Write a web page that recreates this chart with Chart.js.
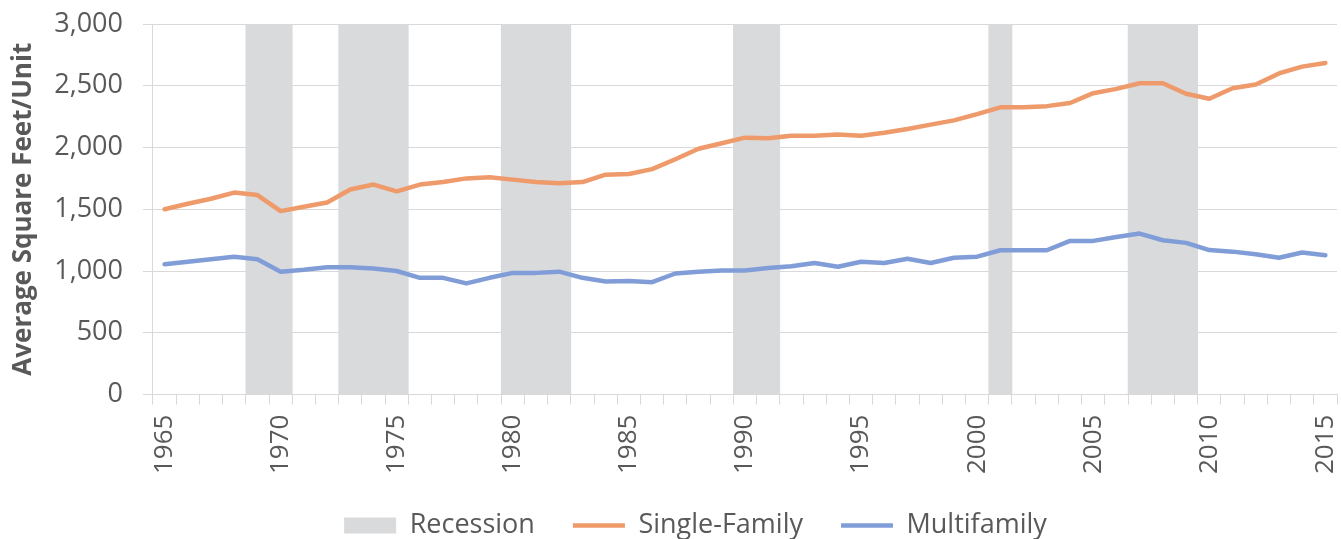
<!DOCTYPE html>
<html>
<head>
<meta charset="utf-8">
<script src="https://cdn.jsdelivr.net/npm/chart.js@4/dist/chart.umd.min.js"></script>
<style>
  html, body { margin: 0; padding: 0; background: #ffffff; }
  #wrap { width: 1341px; height: 539px; }
</style>
</head>
<body>
<div id="wrap"><canvas id="c" width="1341" height="539"></canvas></div>
<script>
const years = [];
for (let y = 1965; y <= 2015; y++) years.push(String(y));

const recessionYears = [1969, 1970, 1973, 1974, 1975, 1980, 1981, 1982, 1990, 1991, 2001, 2007, 2008, 2009];

const singleFamily = [
  1500, 1545, 1585, 1635, 1615, 1485, 1520, 1555, 1660, 1700,
  1645, 1700, 1720, 1750, 1760, 1740, 1720, 1710, 1720, 1780,
  1785, 1825, 1905, 1990, 2035, 2080, 2075, 2095, 2095, 2105,
  2095, 2120, 2150, 2185, 2220, 2270, 2325, 2325, 2335, 2360,
  2440, 2475, 2520, 2520, 2435, 2395, 2480, 2510, 2600, 2655,
  2685
];

const multifamily = [
  1055, 1075, 1095, 1115, 1095, 995, 1010, 1030, 1030, 1020,
  1000, 945, 945, 900, 945, 985, 985, 995, 945, 915,
  920, 910, 980, 995, 1005, 1005, 1025, 1038, 1065, 1035,
  1075, 1065, 1100, 1065, 1108, 1116, 1168, 1168, 1168, 1244,
  1244, 1276, 1303, 1249, 1228, 1170, 1157, 1136, 1108, 1150,
  1127
];

const yMax = 3000;
const recession = years.map(y => recessionYears.includes(Number(y)) ? yMax : null);

const textColor = '#595959';
const gridColor = '#d9d9d9';
const fontFamily = '"Open Sans", "Noto Sans", sans-serif';

const legendShift = {
  id: 'legendShift',
  afterLayout(chart) {
    const lg = chart.legend;
    if (lg) {
      const dx = 25;
      lg.left += dx;
      lg.right += dx;
      if (lg.legendHitBoxes) lg.legendHitBoxes.forEach(h => { h.left += dx; });
    }
  }
};

new Chart(document.getElementById('c'), {
  data: {
    labels: years,
    datasets: [
      {
        type: 'bar',
        label: 'Recession',
        data: recession,
        backgroundColor: '#d9dadc',
        borderWidth: 0,
        categoryPercentage: 1.0,
        barPercentage: 1.0,
        pointStyle: 'rect',
        order: 3
      },
      {
        type: 'line',
        label: 'Single-Family',
        data: singleFamily,
        borderColor: '#ee9a6a',
        backgroundColor: '#ee9a6a',
        borderWidth: 4.5,
        pointRadius: 0,
        pointStyle: 'line',
        borderCapStyle: 'round',
        borderJoinStyle: 'round',
        tension: 0,
        order: 1
      },
      {
        type: 'line',
        label: 'Multifamily',
        data: multifamily,
        borderColor: '#809dd8',
        backgroundColor: '#809dd8',
        borderWidth: 4.5,
        pointRadius: 0,
        pointStyle: 'line',
        borderCapStyle: 'round',
        borderJoinStyle: 'round',
        tension: 0,
        order: 2
      }
    ]
  },
  plugins: [legendShift],
  options: {
    responsive: false,
    animation: false,
    layout: { padding: { left: 4, right: 4, top: 24, bottom: -10 } },
    plugins: {
      tooltip: { enabled: false },
      legend: {
        position: 'bottom',
        labels: {
          color: textColor,
          font: { family: fontFamily, size: 27 },
          usePointStyle: true,
          pointStyleWidth: 52,
          boxHeight: 16,
          padding: 38,
          sort: (a, b) => a.datasetIndex - b.datasetIndex
        }
      }
    },
    scales: {
      x: {
        type: 'category',
        offset: true,
        afterFit: (scale) => {
          scale.paddingRight = 0;
          scale.paddingLeft = 0;
          scale.height = scale.height - 10;
        },
        grid: {
          offset: true,
          drawOnChartArea: false,
          drawTicks: true,
          tickLength: 10,
          color: gridColor
        },
        border: { display: true, color: gridColor },
        ticks: {
          autoSkip: false,
          maxRotation: 90,
          minRotation: 90,
          color: textColor,
          font: { family: fontFamily, size: 26 },
          padding: 10,
          callback: function (value) {
            const lab = this.getLabelForValue(value);
            return Number(lab) % 5 === 0 ? lab : '';
          }
        }
      },
      y: {
        min: 0,
        max: yMax,
        afterFit: (scale) => {
          scale.paddingTop = 0;
          scale.paddingBottom = 0;
        },
        grid: { color: gridColor, tickLength: 10 },
        border: { display: true, color: gridColor },
        ticks: {
          stepSize: 500,
          color: textColor,
          font: { family: fontFamily, size: 27 },
          padding: 20,
          callback: v => v.toLocaleString('en-US')
        },
        title: {
          display: true,
          text: 'Average Square Feet/Unit',
          color: textColor,
          font: { family: fontFamily, size: 26, weight: 'bold' },
          padding: { top: 4, bottom: -5 }
        }
      }
    }
  }
});
</script>
</body>
</html>
